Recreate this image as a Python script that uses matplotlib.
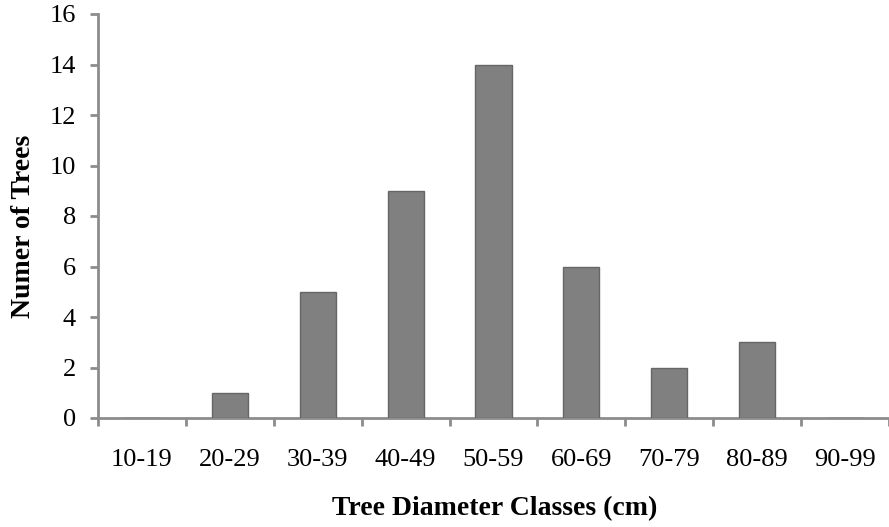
import matplotlib
matplotlib.use("Agg")
import matplotlib.pyplot as plt
import numpy as np

categories = ["10-19", "20-29", "30-39", "40-49", "50-59", "60-69", "70-79", "80-89", "90-99"]
counts = [0, 1, 5, 9, 14, 6, 2, 3, 0]
yticks = [0, 2, 4, 6, 8, 10, 12, 14, 16]

plt.rcParams['font.family'] = ['Liberation Serif', 'DejaVu Serif']

W, H = 889, 527
fig = plt.figure(figsize=(W/100, H/100), dpi=100)
left, right = 98/W, 1.0
bottom, top = (H-418)/H, (H-14)/H
ax = fig.add_axes([left, bottom, right-left, top-bottom])

x = np.arange(len(categories))
ax.bar(x, counts, width=0.41, color='#808080', edgecolor='#666666', linewidth=1.0, zorder=3)

span_px = W - 99
ax.set_xlim(-0.5, -0.5 + span_px/88.0)
ax.set_ylim(0, 16)

gray = '#8c8c8c'
for s in ['top', 'right']:
    ax.spines[s].set_visible(False)
for s in ['left', 'bottom']:
    ax.spines[s].set_color(gray)
    ax.spines[s].set_linewidth(2)

ax.set_yticks(yticks)
ax.set_yticklabels([str(v) for v in yticks], fontsize=19)
ax.tick_params(axis='y', direction='out', length=6, width=2, color=gray, pad=10)

ax.set_xticks(np.arange(len(categories) + 1) - 0.5)
ax.set_xticklabels([])
ax.tick_params(axis='x', which='major', direction='out', length=6, width=2, color=gray)
ax.set_xticks(x, minor=True)
ax.set_xticklabels(categories, minor=True, fontsize=19)
ax.tick_params(axis='x', which='minor', length=0, pad=22)

fig.text(24/W, 1 - 226/H, "Numer of Trees", rotation=90, fontsize=20, fontweight='bold',
         ha='center', va='center')
fig.text(495/W, 1 - 509/H, "Tree Diameter Classes (cm)", fontsize=20, fontweight='bold',
         ha='center', va='center')

fig.savefig("out.png", dpi=100)
